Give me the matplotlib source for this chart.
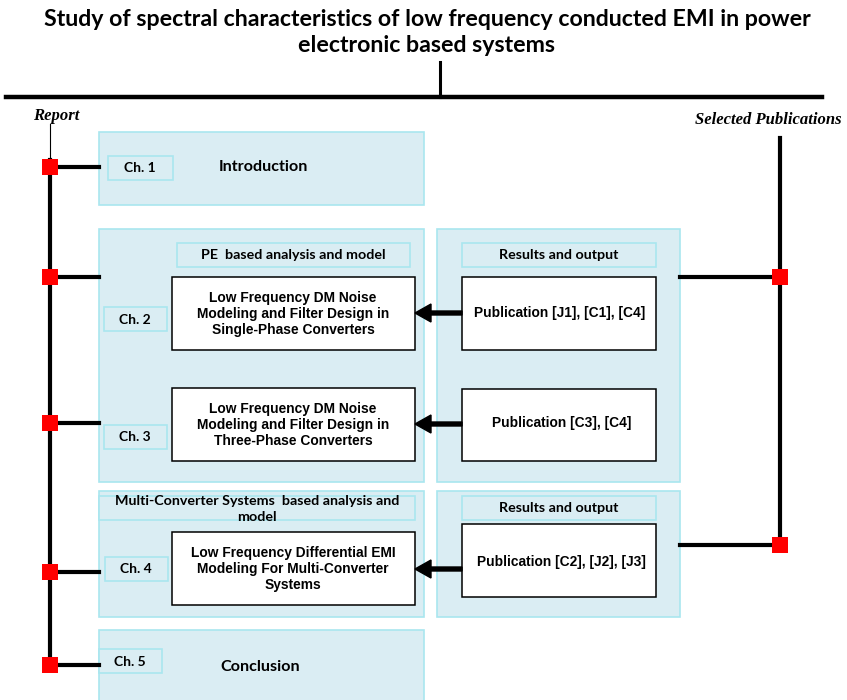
import matplotlib.pyplot as plt
from matplotlib.patches import Rectangle, FancyArrow

# Textos del diagrama
titulo = ["Study of spectral characteristics of low frequency conducted EMI in power",
          "electronic based systems"]
etiqueta_izq = "Report"
etiqueta_der = "Selected Publications"
capitulos = ["Ch. 1", "Ch. 2", "Ch. 3", "Ch. 4", "Ch. 5"]
temas = ["Introduction", "Conclusion"]
encabezados = ["PE  based analysis and model",
               "Multi-Converter Systems  based analysis and\nmodel",
               "Results and output"]
trabajos = ["Low Frequency DM Noise\nModeling and Filter Design in\nSingle-Phase Converters",
            "Low Frequency DM Noise\nModeling and Filter Design in\nThree-Phase Converters",
            "Low Frequency Differential EMI\nModeling For Multi-Converter\nSystems"]
publicaciones = ["Publication [J1], [C1], [C4]",
                 "Publication [C3], [C4]",
                 "Publication [C2], [J2], [J3]"]

AZUL = "#daedf3"
BORDE = "#a9e6ef"
ROJO = "#ff0000"
CAL = ["Lato", "DejaVu Sans"]
ARIAL = ["Liberation Sans", "DejaVu Sans"]
TIMES = ["Liberation Serif", "DejaVu Serif"]

fig = plt.figure(figsize=(8.47, 7.0), dpi=100)
ax = fig.add_axes([0, 0, 1, 1])
ax.set_xlim(0, 847)
ax.set_ylim(700, 0)
ax.axis("off")


def caja(x0, y0, x1, y1, fondo=AZUL, borde=BORDE, lw=1.2, z=1):
    ax.add_patch(Rectangle((x0, y0), x1 - x0, y1 - y0, facecolor=fondo,
                           edgecolor=borde, lw=lw, zorder=z))


def texto(x, y, s, fam=CAL, size=10, **kw):
    ax.text(x, y, s, family=fam, fontsize=size, fontweight="bold",
            ha="center", va="center", zorder=5, **kw)


def cuadro_rojo(x, y):
    ax.add_patch(Rectangle((x - 8, y - 8), 16, 16, facecolor=ROJO,
                           edgecolor="none", zorder=6))


# Titulo y linea superior
texto(427, 20, titulo[0], size=16.7)
texto(427, 46, titulo[1], size=16.7)
ax.plot([440, 440], [62, 97], color="black", lw=2.2, zorder=3)
ax.plot([6, 822], [97, 97], color="black", lw=3.2, zorder=3)

# Etiquetas laterales
ax.text(56, 116, etiqueta_izq, family=TIMES, fontsize=12, fontweight="bold",
        style="italic", ha="center", va="center")
ax.text(768, 120, etiqueta_der, family=TIMES, fontsize=12, fontweight="bold",
        style="italic", ha="center", va="center")
ax.plot([50, 50], [124, 160], color="black", lw=0.8, zorder=3)

# Lineas verticales
ax.plot([50, 50], [160, 666], color="black", lw=3, zorder=3)
ax.plot([780, 780], [138, 545], color="black", lw=3, zorder=3)

# Conectores izquierda
for y in [167, 277, 423, 572, 665]:
    ax.plot([50, 99], [y, y], color="black", lw=3, zorder=3)
    cuadro_rojo(50, y)

# Conectores derecha
for y in [277, 545]:
    ax.plot([680, 780], [y, y], color="black", lw=3, zorder=3)
    cuadro_rojo(780, y)

# Capitulo 1
caja(99, 132, 424, 205)
caja(108, 156, 173, 180)
texto(140, 168, capitulos[0])
texto(263, 167, temas[0], size=11.6)

# Bloque PE
caja(99, 229, 424, 482)
caja(177, 243, 410, 267)
texto(293, 255, encabezados[0], size=10.3)
caja(172, 277, 415, 350, fondo="white", borde="black", lw=1.1, z=2)
texto(293, 314, trabajos[0], fam=ARIAL, size=9.9, linespacing=1.22)
caja(104, 307, 167, 331)
texto(135, 320, capitulos[1])
caja(172, 388, 415, 461, fondo="white", borde="black", lw=1.1, z=2)
texto(293, 425, trabajos[1], fam=ARIAL, size=9.9, linespacing=1.22)
caja(104, 425, 167, 449)
texto(135, 437, capitulos[2])

# Resultados 1
caja(437, 229, 680, 482)
caja(462, 243, 656, 267)
texto(559, 255, encabezados[2], size=10.3)
caja(462, 277, 656, 350, fondo="white", borde="black", lw=1.1, z=2)
texto(560, 313, publicaciones[0], fam=ARIAL, size=9.9)
caja(462, 389, 656, 461, fondo="white", borde="black", lw=1.1, z=2)
texto(562, 423, publicaciones[1], fam=ARIAL, size=9.9)

# Bloque multi-convertidor
caja(99, 491, 424, 617)
caja(99, 496, 415, 520)
texto(257, 509, encabezados[1], size=10.3, linespacing=1.45)
caja(172, 532, 415, 605, fondo="white", borde="black", lw=1.1, z=2)
texto(293, 569, trabajos[2], fam=ARIAL, size=9.9, linespacing=1.22)
caja(105, 557, 168, 581)
texto(136, 569, capitulos[3])

# Resultados 2
caja(437, 491, 680, 617)
caja(462, 496, 656, 520)
texto(559, 508, encabezados[2], size=10.3)
caja(462, 524, 656, 597, fondo="white", borde="black", lw=1.1, z=2)
texto(561, 562, publicaciones[2], fam=ARIAL, size=9.9)

# Capitulo 5
caja(99, 630, 424, 705)
caja(99, 649, 162, 673)
texto(130, 662, capitulos[4])
texto(260, 667, temas[1], size=11.6)

# Flechas de publicaciones hacia capitulos
for y in [313, 424, 569]:
    ax.add_patch(FancyArrow(462, y, -47, 0, width=4, head_width=18,
                            head_length=16, length_includes_head=True,
                            color="black", zorder=7))

fig.savefig("out.png", dpi=100)
